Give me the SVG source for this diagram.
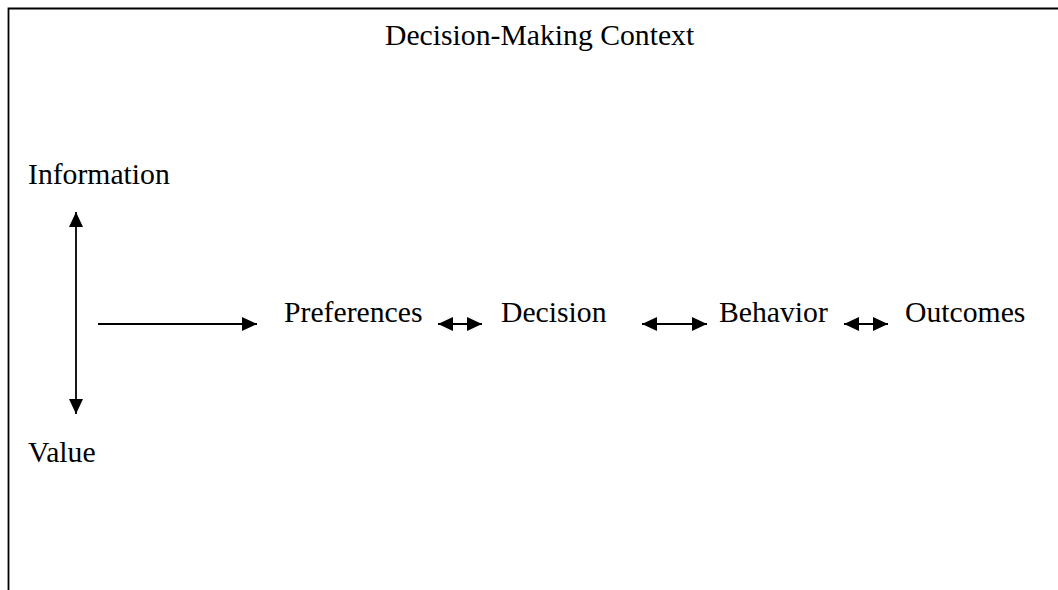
<svg xmlns="http://www.w3.org/2000/svg" width="1058" height="590" viewBox="0 0 1058 590">
<style>
text{font-family:"Liberation Serif","Times New Roman",serif;font-size:29.7px;fill:#000}
.c{stroke:#000;stroke-width:1.8;fill:none}
</style>
<defs>
<marker id="ah" viewBox="0 0 15 15" markerUnits="userSpaceOnUse" markerWidth="15" markerHeight="15" refX="15" refY="7.5" orient="auto-start-reverse">
<path d="M0,0.5 L15,7.5 L0,14.5 z" fill="#000"/>
</marker>
</defs>
<rect width="1058" height="590" fill="#fff"/>
<g id="frame">
<path class="c" d="M8.5,590 V8.5 H1058"/>
<text x="385" y="45">Decision-Making Context</text>
</g>
<g id="information"><text x="28" y="184">Information</text></g>
<g id="value"><text x="28" y="462">Value</text></g>
<g id="preferences"><text x="284" y="322">Preferences</text></g>
<g id="decision"><text x="501" y="322">Decision</text></g>
<g id="behavior"><text x="719" y="322">Behavior</text></g>
<g id="outcomes"><text x="905" y="322">Outcomes</text></g>
<g id="connectors">
<line class="c" x1="76" y1="212" x2="76" y2="414" marker-start="url(#ah)" marker-end="url(#ah)"/>
<line class="c" x1="98" y1="324" x2="257" y2="324" marker-end="url(#ah)"/>
<line class="c" x1="438" y1="324" x2="482" y2="324" marker-start="url(#ah)" marker-end="url(#ah)"/>
<line class="c" x1="642" y1="324" x2="707" y2="324" marker-start="url(#ah)" marker-end="url(#ah)"/>
<line class="c" x1="844" y1="324" x2="888" y2="324" marker-start="url(#ah)" marker-end="url(#ah)"/>
</g>
</svg>
